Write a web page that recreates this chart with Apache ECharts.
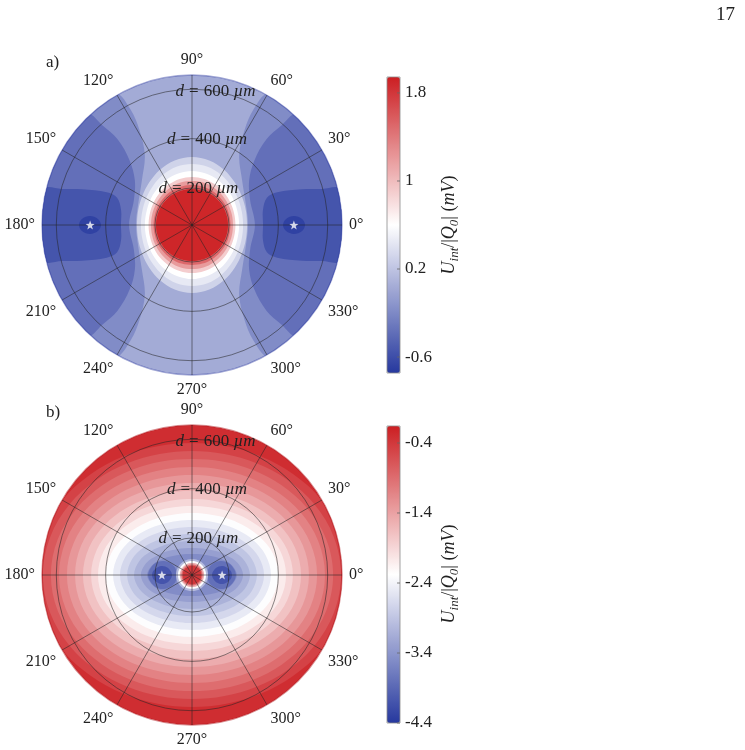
<!DOCTYPE html>
<html>
<head>
<meta charset="utf-8">
<script src="https://cdn.jsdelivr.net/npm/echarts@6/dist/echarts.min.js"></script>
<style>
html, body { margin: 0; padding: 0; background: #fff; }
#chart { width: 745px; height: 750px; }
</style>
</head>
<body>
<div id="chart"></div>
<script>
// distances d in µm, angles in degrees (0° = right, counter-clockwise)
const D_MIN = 50, D_MAX = 658;
const ANGLE_TICKS = [0, 30, 60, 90, 120, 150, 180, 210, 240, 270, 300, 330];
const RING_TICKS = [200, 400, 600];
const RING_LABEL_ANGLE = 80;
// first-quadrant sample angles for closed contours around the centre
const RING_ANGLES = [0, 15, 30, 45, 60, 75, 90];

// ---- panel a ----
const A_RANGE = [-0.745, 1.945];
const A_TICKS = [-0.6, 0.2, 1, 1.8];
const A_BG = 0.03;
// regions around the two stars, first quadrant outline [angle, d]
const A_SIDE_LEVELS = [-0.18, -0.37, -0.55, -0.68];
const A_SIDE_PATHS = [
  [[0, 277], [20, 283], [42, 323], [56, 392], [61, 489], [62, 579], [60, 658], [50, 658], [40, 658], [30, 658], [20, 658], [10, 658], [0, 658]],
  [[0, 305], [23, 306], [38, 344], [46, 414], [49, 510], [48, 595], [47, 658], [40, 658], [30, 658], [20, 658], [10, 658], [0, 658]],
  [[0, 338], [12, 344], [20, 373], [21, 420], [18, 518], [15.5, 597], [14, 658], [7, 658], [0, 658]],
  [[0, 419], [3.7, 432], [5, 465], [3.1, 497], [0, 508]]
];
// contours around the centre, d at RING_ANGLES
const A_RING_LEVELS = [0.3, 0.45, 0.6, 0.9, 1.2, 1.5, 1.9];
const A_RING_D = [
  [273, 276, 283, 295, 309, 321, 326],
  [257, 259, 265, 274, 285, 294, 297],
  [241, 242, 247, 253, 261, 266, 269],
  [226, 227, 230, 235, 239, 243, 245],
  [216, 217, 219, 222, 225, 228, 228],
  [206, 206, 208, 209, 211, 212, 212],
  [196, 196, 196, 196, 196, 196, 196]
];
const A_STARS = [[463, 0], [463, 180]];

// ---- panel b ----
const B_RANGE = [-4.4, -0.157];
const B_TICKS = [-4.4, -3.4, -2.4, -1.4, -0.4];
const B_BG = -0.3;
const B_RING_LEVELS = [-0.5, -0.7, -0.9, -1.1, -1.3, -1.5, -1.7, -1.9, -2.1, -2.3, -2.5, -2.7, -2.9, -3.1, -3.3, -3.5];
const B_RING_D = [
  [658, 658, 656, 629, 606, 590, 585],
  [654, 645, 623, 596, 573, 558, 553],
  [622, 613, 590, 564, 541, 526, 520],
  [589, 580, 558, 531, 508, 493, 488],
  [557, 547, 524, 498, 475, 460, 455],
  [524, 515, 491, 465, 442, 428, 423],
  [492, 482, 458, 431, 409, 395, 391],
  [459, 449, 425, 398, 376, 363, 358],
  [431, 421, 396, 369, 348, 334, 330],
  [399, 389, 364, 338, 318, 305, 301],
  [370, 359, 335, 309, 289, 277, 273],
  [342, 330, 305, 279, 260, 248, 245],
  [313, 301, 275, 249, 230, 220, 216],
  [285, 271, 243, 218, 201, 191, 188],
  [257, 241, 211, 187, 171, 162, 159],
  [232, 214, 183, 159, 145, 138, 135]
];
const B_BLOB_LEVELS = [-3.8, -4.1];
const B_BLOB_PATHS = [
  [[0, 111], [26.6, 132], [26.6, 177], [16.1, 210], [0, 228]],
  [[0, 131], [16.3, 151], [16.2, 181], [7.5, 205], [0, 212]]
];
const B_CORE_LEVELS = [-3.0, -2.3, -1.5, -0.9, -0.4];
const B_CORE_D = [
  [115, 115, 115, 115, 115, 115, 115],
  [107, 107, 107, 107, 107, 107, 107],
  [99, 99, 99, 99, 99, 99, 99],
  [93, 93, 93, 93, 93, 93, 93],
  [88, 88, 88, 88, 88, 88, 88]
];
const B_STARS = [[172, 0], [172, 180]];

const CMAP = ['#26389e', '#ffffff', '#cc1e22'];
const RIM_COLORS = ['rgba(45,58,160,0.45)', 'rgba(175,20,25,0.5)'];
const SERIF = "'Liberation Serif', 'DejaVu Serif', serif";
const STAR = 'path://M0,-10L2.35,-3.24L9.51,-3.09L3.8,1.24L5.88,8.09L0,4L-5.88,8.09L-3.8,1.24L-9.51,-3.09L-2.35,-3.24Z';

// mirror a first-quadrant contour to the full circle (no repeated points)
function mirrorRing(ds) {
  const q = RING_ANGLES.map((a, i) => [a, ds[i]]);
  const n = q.length;
  const pts = q.slice();
  for (let i = n - 2; i >= 0; i--) pts.push([180 - q[i][0], q[i][1]]);
  for (let i = 1; i < n; i++) pts.push([180 + q[i][0], q[i][1]]);
  for (let i = n - 2; i >= 1; i--) pts.push([360 - q[i][0], q[i][1]]);
  return [pts];
}

// mirror an upper-right outline to a closed region on the right, then to the left
function mirrorSide(path) {
  const low = path.slice().reverse().map(p => [-p[0], p[1]]);
  const right = path.concat(low.slice(1, -1));
  const left = right.map(p => [180 - p[0], p[1]]);
  return [right, left];
}

const A_LAYERS = [{ v: A_BG, disk: true }]
  .concat(A_SIDE_LEVELS.map((v, i) => ({ v, polys: mirrorSide(A_SIDE_PATHS[i]) })))
  .concat(A_RING_LEVELS.map((v, i) => ({ v, polys: mirrorRing(A_RING_D[i]) })));

const B_LAYERS = [{ v: B_BG, disk: true }]
  .concat(B_RING_LEVELS.map((v, i) => ({ v, polys: mirrorRing(B_RING_D[i]) })))
  .concat(B_BLOB_LEVELS.map((v, i) => ({ v, polys: mirrorSide(B_BLOB_PATHS[i]) })))
  .concat(B_CORE_LEVELS.map((v, i) => ({ v, polys: mirrorRing(B_CORE_D[i]) })));

function fillRenderer(layers) {
  return function (params, api) {
    const L = layers[params.dataIndex];
    const color = api.visual('color');
    const c = api.coord([D_MIN, 0]);
    if (L.disk) {
      const e = api.coord([D_MAX, 0]);
      return { type: 'circle', shape: { cx: c[0], cy: c[1], r: e[0] - c[0] }, style: { fill: color } };
    }
    return {
      type: 'group',
      children: L.polys.map(poly => ({
        type: 'polygon',
        shape: {
          points: poly.map(p => api.coord([p[1] >= D_MAX ? D_MAX + 8 : p[1], p[0]])),
          smooth: 0.35
        },
        style: { fill: color }
      }))
    };
  };
}

function fillSeries(layers, polarIndex) {
  return {
    type: 'custom', coordinateSystem: 'polar', polarIndex, clip: true, z: 2, silent: true,
    data: layers.map((L, i) => [L.v, i]),
    renderItem: fillRenderer(layers)
  };
}

const GRID_LINE = { stroke: 'rgba(35,35,35,0.6)', lineWidth: 0.9, fill: null };

function circleSeries(polarIndex, ds, style, z) {
  return {
    type: 'custom', coordinateSystem: 'polar', polarIndex, z, silent: true,
    data: ds.map(d => [d, 0]),
    renderItem: (params, api) => {
      const c = api.coord([D_MIN, 0]);
      const p = api.coord([api.value(0), 0]);
      return { type: 'circle', shape: { cx: c[0], cy: c[1], r: p[0] - c[0] }, style };
    }
  };
}

function spokeSeries(polarIndex) {
  return {
    type: 'custom', coordinateSystem: 'polar', polarIndex, z: 3, silent: true,
    data: ANGLE_TICKS.map(a => [D_MAX, a]),
    renderItem: (params, api) => {
      const a = api.value(1);
      const p0 = api.coord([D_MIN, a]);
      const p1 = api.coord([D_MAX, a]);
      return { type: 'line', shape: { x1: p0[0], y1: p0[1], x2: p1[0], y2: p1[1] }, style: GRID_LINE };
    }
  };
}

function ringLabelSeries(polarIndex) {
  return {
    type: 'custom', coordinateSystem: 'polar', polarIndex, z: 4, silent: true,
    data: RING_TICKS.map(d => [d, RING_LABEL_ANGLE]),
    renderItem: (params, api) => {
      const p = api.coord([api.value(0), api.value(1)]);
      return {
        type: 'text', x: p[0], y: p[1],
        style: {
          text: '{i|d}{e|=}' + api.value(0) + ' {i|µm}',
          rich: {
            i: { fontStyle: 'italic', fontFamily: SERIF, fontSize: 17, fill: '#222' },
            e: { fontFamily: SERIF, fontSize: 17, fill: '#222', padding: [0, 5, 0, 5] }
          },
          fontFamily: SERIF, fontSize: 17, fill: '#222',
          align: 'center', verticalAlign: 'middle'
        }
      };
    }
  };
}

function starSeries(data, polarIndex) {
  return {
    type: 'scatter', coordinateSystem: 'polar', polarIndex, z: 5, silent: true,
    symbol: STAR, symbolSize: 9, itemStyle: { color: '#ffffff' }, data
  };
}

function tickSeries(ticks, gridIndex) {
  return {
    type: 'custom', coordinateSystem: 'cartesian2d', xAxisIndex: gridIndex, yAxisIndex: gridIndex,
    z: 30, silent: true,
    data: ticks.map(v => [1, v]),
    renderItem: (params, api) => {
      const p = api.coord([1, api.value(1)]);
      return { type: 'line', shape: { x1: p[0] - 3, y1: p[1], x2: p[0], y2: p[1] }, style: { stroke: '#666', lineWidth: 0.8 } };
    }
  };
}

function angleAxis(polarIndex) {
  return {
    polarIndex, type: 'value', min: 0, max: 360, interval: 30, startAngle: 0, clockwise: false,
    axisLine: { show: false }, axisTick: { show: false }, splitLine: { show: false },
    axisLabel: {
      margin: 7, fontFamily: SERIF, fontSize: 16, color: '#222',
      formatter: v => (v >= 360 ? '' : v + '°')
    }
  };
}

function radiusAxis(polarIndex) {
  return { polarIndex, type: 'value', min: D_MIN, max: D_MAX, show: false };
}

function barAxis(gridIndex, range, ticks) {
  return {
    gridIndex, type: 'value', min: range[0], max: range[1], position: 'right', z: 10,
    axisLine: { show: false }, splitLine: { show: false }, axisTick: { show: false },
    axisLabel: { customValues: ticks, margin: 5, fontFamily: SERIF, fontSize: 17, color: '#222' }
  };
}

const BAR_A = { x: 387, y: 77, w: 13, h: 296 };
const BAR_B = { x: 387, y: 426, w: 13, h: 297 };

function barTitle(cy) {
  return {
    type: 'text', x: 449, y: cy, rotation: Math.PI / 2, z: 20,
    style: {
      text: '{i|U}{s|int}{n|/|}{i|Q}{s|0}{n|| (}{i|mV}{n|)}',
      align: 'center', verticalAlign: 'middle', fill: '#222',
      rich: {
        i: { fontStyle: 'italic', fontFamily: SERIF, fontSize: 18, lineHeight: 24, fill: '#222' },
        n: { fontFamily: SERIF, fontSize: 18, lineHeight: 24, fill: '#222' },
        s: { fontStyle: 'italic', fontFamily: SERIF, fontSize: 13, lineHeight: 13, verticalAlign: 'bottom', fill: '#222' }
      }
    }
  };
}

function barBorder(b) {
  return { type: 'rect', z: 20, shape: { x: b.x, y: b.y, width: b.w, height: b.h }, style: { fill: null, stroke: '#8a8a8a', lineWidth: 0.8 } };
}

function plainText(x, y, text, size) {
  return { type: 'text', x, y, z: 20, style: { text, fontFamily: SERIF, fontSize: size, fill: '#222', align: 'left', verticalAlign: 'middle' } };
}

const chart = echarts.init(document.getElementById('chart'));
chart.setOption({
  animation: false,
  backgroundColor: '#ffffff',
  polar: [
    { center: [192, 225], radius: 150 },
    { center: [192, 575], radius: 150 }
  ],
  angleAxis: [angleAxis(0), angleAxis(1)],
  radiusAxis: [radiusAxis(0), radiusAxis(1)],
  grid: [
    { left: BAR_A.x, top: BAR_A.y, width: BAR_A.w, height: BAR_A.h },
    { left: BAR_B.x, top: BAR_B.y, width: BAR_B.w, height: BAR_B.h }
  ],
  xAxis: [
    { gridIndex: 0, type: 'value', min: 0, max: 1, show: false },
    { gridIndex: 1, type: 'value', min: 0, max: 1, show: false }
  ],
  yAxis: [barAxis(0, A_RANGE, A_TICKS), barAxis(1, B_RANGE, B_TICKS)],
  visualMap: [
    {
      type: 'continuous', seriesIndex: 0, dimension: 0, min: A_RANGE[0], max: A_RANGE[1],
      inRange: { color: CMAP }, calculable: false, hoverLink: false, padding: 0,
      left: BAR_A.x, top: BAR_A.y, itemWidth: BAR_A.w, itemHeight: BAR_A.h, text: null
    },
    {
      type: 'continuous', seriesIndex: 1, dimension: 0, min: B_RANGE[0], max: B_RANGE[1],
      inRange: { color: CMAP }, calculable: false, hoverLink: false, padding: 0,
      left: BAR_B.x, top: BAR_B.y, itemWidth: BAR_B.w, itemHeight: BAR_B.h, text: null
    }
  ],
  graphic: [
    barBorder(BAR_A), barBorder(BAR_B),
    barTitle(225), barTitle(574),
    plainText(46, 63, 'a)', 17),
    plainText(46, 413, 'b)', 17),
    plainText(716, 15, '17', 19)
  ],
  series: [
    fillSeries(A_LAYERS, 0),
    fillSeries(B_LAYERS, 1),
    circleSeries(0, RING_TICKS, GRID_LINE, 3), circleSeries(1, RING_TICKS, GRID_LINE, 3),
    circleSeries(0, [D_MAX], { stroke: RIM_COLORS[0], lineWidth: 1.4, fill: null }, 3),
    circleSeries(1, [D_MAX], { stroke: RIM_COLORS[1], lineWidth: 1.4, fill: null }, 3),
    spokeSeries(0), spokeSeries(1),
    ringLabelSeries(0), ringLabelSeries(1),
    starSeries(A_STARS, 0), starSeries(B_STARS, 1),
    tickSeries(A_TICKS, 0), tickSeries(B_TICKS, 1)
  ]
});
</script>
</body>
</html>
